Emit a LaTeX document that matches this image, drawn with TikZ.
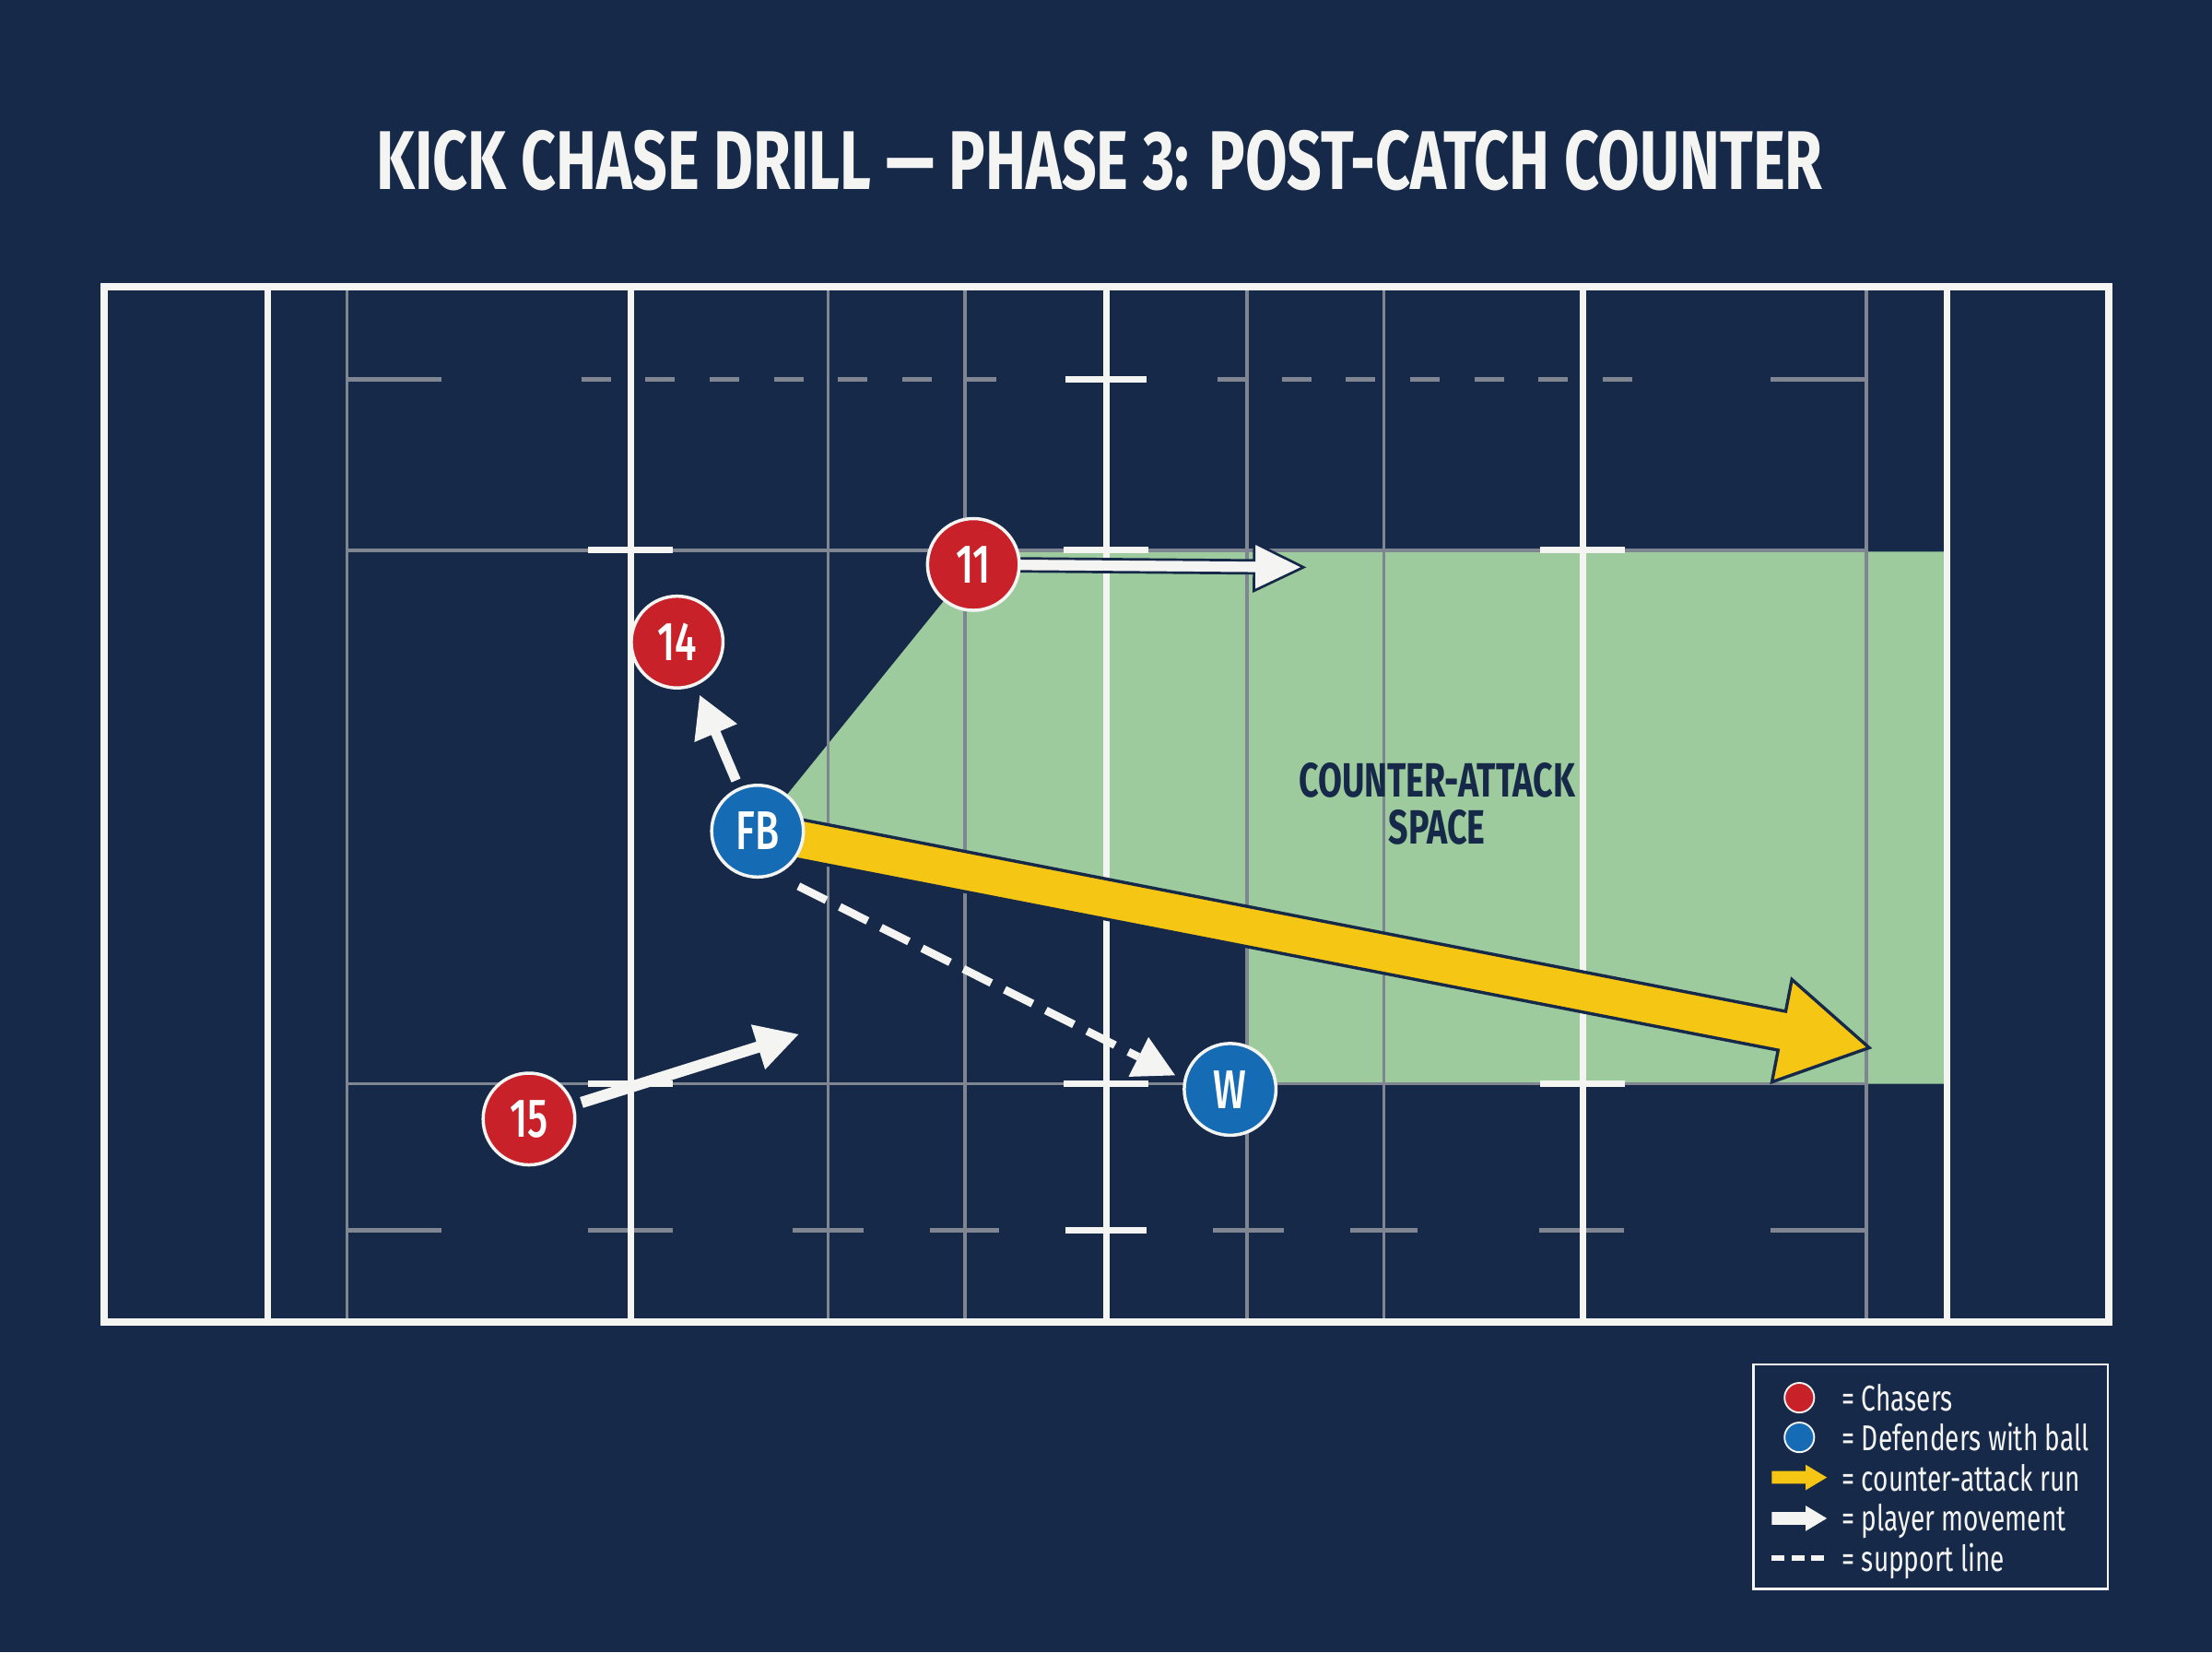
\documentclass[tikz,border=0pt]{standalone}
\usepackage{fontspec}
\usetikzlibrary{calc}
\newfontfamily\cond[FakeStretch=0.72]{Fira Sans}
\newfontfamily\condmed[FakeStretch=0.72]{Fira Sans Medium}
\definecolor{bgnavy}{RGB}{22,41,73}
\definecolor{fieldgreen}{RGB}{157,203,158}
\definecolor{chred}{RGB}{200,33,41}
\definecolor{defblue}{RGB}{22,108,180}
\definecolor{cayellow}{RGB}{246,198,20}
\definecolor{lgrey}{RGB}{128,134,145}
\definecolor{lwhite}{RGB}{244,244,242}
% #1 start, #2 end, #3 half shaft, #4 head length, #5 half head, #6 style
\newcommand{\fatarrow}[6]{%
  \coordinate (fab) at ($(#2)!#4!(#1)$);
  \path[#6] ($(#1)!#3!-90:(#2)$) -- ($(fab)!#3!90:(#1)$) -- ($(fab)!#5!90:(#1)$) -- (#2)
    -- ($(fab)!#5!-90:(#1)$) -- ($(fab)!#3!-90:(#1)$) -- ($(#1)!#3!90:(#2)$) -- cycle;
}
\tikzset{
  whiteline/.style={draw=lwhite, line width=1.3pt},
  greyline/.style={draw=lgrey, line width=0.6pt},
  greydash/.style={draw=lgrey, line width=0.9pt},
  player/.style={circle, minimum size=0.65cm, inner sep=0pt, draw=lwhite, line width=0.65pt,
    text=white, font=\condmed\fontsize{11pt}{12pt}\selectfont},
  chaser/.style={player, fill=chred},
  defender/.style={player, fill=defblue},
  legtext/.style={anchor=base west, inner sep=0pt, text=lwhite, font=\cond\fontsize{7.23pt}{8pt}\selectfont},
  legdot/.style={circle, minimum size=0.21cm, inner sep=0pt, draw=lwhite, line width=0.35pt},
}
\begin{document}
\begin{tikzpicture}[x=0.01cm,y=-0.01cm]
\fill[bgnavy] (0,0) rectangle (1568,1170.8);
\useasboundingbox (0,0) rectangle (1568,1170.8);

% player positions
\coordinate (P11) at (690,400);
\coordinate (P14) at (480,455);
\coordinate (P15) at (375,793);
\coordinate (PFB) at (537,589);
\coordinate (PW) at (872,772);

% counter-attack space
\fill[fieldgreen] (PFB) -- (P11) -- (690,391) -- (1380,391) -- (1380,768) -- (884,768) -- (884,660) -- cycle;

% grey pitch lines
\foreach \x in {246,587,684,884,981,1323} \draw[greyline] (\x,203) -- (\x,937);
\foreach \y in {390,768} \draw[greyline] (246,\y) -- (1323,\y);
\draw[greydash] (246,269) -- (313,269) (1255,269) -- (1323,269);
\draw[greydash, dash pattern=on 5.97pt off 6.97pt] (412,269) -- (706,269);
\draw[greydash, dash pattern=on 5.97pt off 6.97pt] (863,269) -- (1157,269);
\foreach \a/\b in {246/313,417/477,562/612,659/708,860/910,957/1005,1091/1151,1255/1323}
  \draw[greydash] (\a,872) -- (\b,872);

% white pitch lines
\draw[whiteline, line width=1.45pt] (74,203) rectangle (1495,937);
\foreach \x in {190,447,784,1122,1380} \draw[whiteline] (\x,203) -- (\x,937);
\foreach \x in {447,784,1122} \foreach \y in {390,768} \draw[whiteline] (\x-30,\y) -- (\x+30,\y);
\foreach \y in {269,872} \draw[whiteline] (755,\y) -- (813,\y);

% label of space
\node[inner sep=0pt, align=center, text=bgnavy, font=\cond\bfseries\fontsize{9.7pt}{9.39pt}\selectfont] (casp) at (1018.6,569.5) {COUNTER-ATTACK\\SPACE};

% counter-attack run
\coordinate (caend) at (1325,742.5);
\fatarrow{PFB}{caend}{0.14cm}{0.63cm}{0.37cm}{fill=cayellow, draw=bgnavy, line width=0.63pt}

% 11 movement
\coordinate (m11) at (924,402);
\fatarrow{P11}{m11}{0.046cm}{0.35cm}{0.17cm}{fill=lwhite, draw=bgnavy, line width=0.5pt}

% 14 movement
\coordinate (a14s) at ($(PFB)!0.39cm!(P14)$);
\coordinate (a14e) at ($(P14)!0.41cm!(PFB)$);
\fatarrow{a14s}{a14e}{0.035cm}{0.29cm}{0.165cm}{fill=lwhite}

% 15 movement
\coordinate (m15) at (566,733);
\coordinate (a15s) at ($(P15)!0.39cm!(m15)$);
\fatarrow{a15s}{m15}{0.04cm}{0.30cm}{0.167cm}{fill=lwhite}

% support line
\coordinate (d0) at (566,628);
\coordinate (d1) at (833,762);
\coordinate (d1b) at ($(d1)!0.29cm!(d0)$);
\draw[lwhite, line width=1.6pt, dash pattern=on 6.3pt off 3pt] (d0) -- (d1b);
\fill[lwhite] ($(d1b)!0.157cm!90:(d0)$) -- (d1) -- ($(d1b)!0.157cm!-90:(d0)$) -- cycle;

% players
\node[chaser] (n11) at (P11) {11};
\node[chaser] (n14) at (P14) {14};
\node[chaser] (n15) at (P15) {15};
\node[defender] (nFB) at (PFB) {FB};
\node[defender] (nW) at (PW) {W};

% title
\node[anchor=base, inner sep=0pt, text=lwhite, font=\cond\bfseries\fontsize{16.8pt}{18pt}\selectfont] (title) at (779.5,134) {\scalebox{1.015}[1]{KICK CHASE DRILL — PHASE 3: POST-CATCH COUNTER}};

% legend
\node[draw=lwhite, line width=0.45pt, minimum width=2.51cm, minimum height=1.59cm, inner sep=0pt] (legend) at (1368.5,1046.5) {};
\node[legdot, fill=chred] (lg1) at (1275.5,990.5) {};
\node[legdot, fill=defblue] (lg2) at (1275.5,1018.6) {};
\coordinate (ly0) at (1256,1047); \coordinate (ly1) at (1295,1047);
\fatarrow{ly0}{ly1}{0.045cm}{0.15cm}{0.09cm}{fill=cayellow}
\coordinate (lw0) at (1256,1076); \coordinate (lw1) at (1295,1076);
\fatarrow{lw0}{lw1}{0.045cm}{0.15cm}{0.09cm}{fill=lwhite}
\coordinate (ls0) at (1256,1104); \coordinate (ls1) at (1295,1104);
\draw[lwhite, line width=1.14pt, dash pattern=on 2.56pt off 1.42pt] (ls0) -- (ls1);
\node[legtext] (lt1) at (1305,999.6) {= Chasers};
\node[legtext] (lt2) at (1305,1028.1) {= Defenders with ball};
\node[legtext] (lt3) at (1305,1056.6) {= counter-attack run};
\node[legtext] (lt4) at (1305,1085.1) {= player movement};
\node[legtext] (lt5) at (1305,1113.6) {= support line};
\end{tikzpicture}
\end{document}
